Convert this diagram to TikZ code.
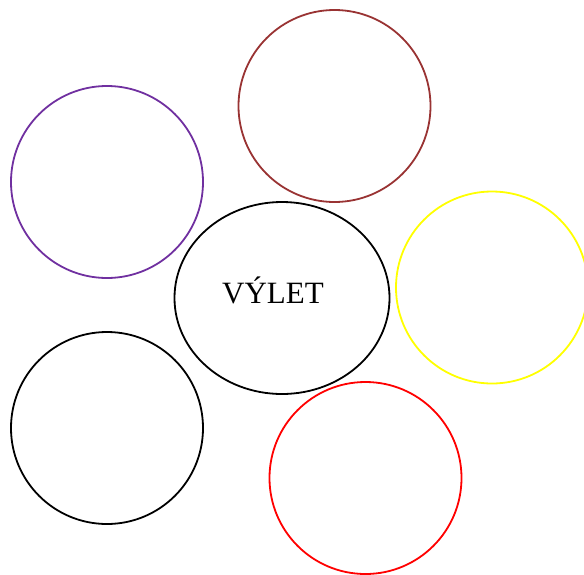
\documentclass[tikz,border=0pt]{standalone}
\usepackage{fontspec}
\setmainfont{Liberation Serif}
\usetikzlibrary{shapes.geometric}
\definecolor{ringpurple}{HTML}{7030A0}
\definecolor{ringbrown}{HTML}{993333}
\definecolor{ringyellow}{HTML}{FFFF00}
\definecolor{ringred}{HTML}{FF0000}
\definecolor{ringblack}{HTML}{000000}

\begin{document}
\begin{tikzpicture}[
  x=1pt, y=-1pt,
  ring/.style={circle, draw=ringblack, line width=1.8pt, inner sep=0pt,
     outer sep=0pt, minimum size=192pt},
  hub/.style={ellipse, draw=ringblack, line width=1.8pt, inner sep=0pt,
     outer sep=0pt, minimum width=215pt, minimum height=192pt},
  title/.style={font=\fontsize{31}{36}\selectfont, inner sep=0pt, anchor=base},
]
\useasboundingbox (0,0) rectangle (584,574);
% --- centre ---
\node[hub] (trip) at (282,298) {};
\node[title] (tripname) at (273,303) {VÝLET};
% --- rings around it ---
\node[ring, draw=ringpurple] (ringA) at (107,182) {};
\node[ring, draw=ringbrown]  (ringB) at (334.5,106) {};
\node[ring, draw=ringyellow] (ringC) at (492,287.5) {};
\node[ring, draw=ringblack]  (ringD) at (107,428) {};
\node[ring, draw=ringred]    (ringE) at (365.5,478) {};
\end{tikzpicture}
\end{document}
